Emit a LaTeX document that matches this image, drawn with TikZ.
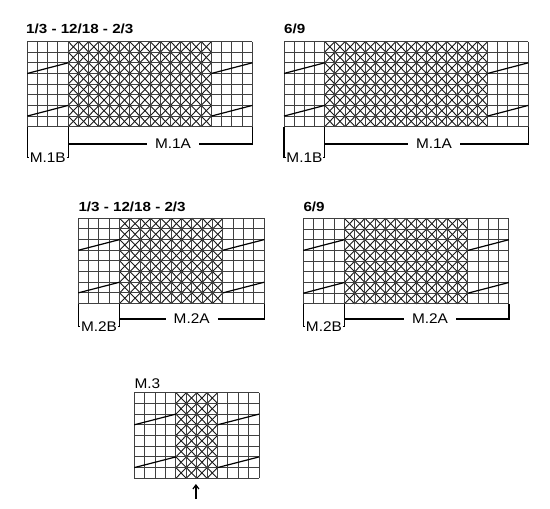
\documentclass[tikz,border=0pt]{standalone}
\usepackage{fontspec}
\setmainfont{Liberation Sans}
\newfontfamily\ttlfont[FakeStretch=1.15]{Liberation Sans}
\newfontfamily\lblfont[FakeStretch=1.1]{Liberation Sans}
\usetikzlibrary{arrows.meta}
\tikzset{
  gridline/.style={draw=black!75, line width=1pt},
  xmark/.style={draw=black!90, line width=0.9pt},
  diag/.style={draw=black, line width=1.2pt},
  brk/.style={draw=black, line width=1.4pt},
  ttl/.style={anchor=base west, inner sep=0pt, font=\ttlfont\bfseries\fontsize{13.2}{15}\selectfont},
  mlbl/.style={anchor=base west, inner sep=0pt, font=\lblfont\fontsize{14}{16}\selectfont},
  blab/.style={fill=white, inner xsep=0.6pt, inner ysep=1pt, font=\lblfont\fontsize{14}{16}\selectfont},
  alab/.style={fill=white, inner xsep=8pt, inner ysep=1pt, font=\lblfont\fontsize{14}{16}\selectfont},
}
% #1 name, #2 x0, #3 y0, #4 cell w, #5 cell h, #6 left cols, #7 X cols, #8 right cols
\newcommand\knitchart[8]{%
  \pgfmathtruncatemacro\kcols{#6+#7+#8}%
  \pgfmathsetmacro\kxa{#2+#6*#4}%
  \pgfmathsetmacro\kxb{#2+(#6+#7)*#4}%
  \pgfmathsetmacro\kxe{#2+\kcols*#4}%
  \pgfmathsetmacro\kye{#3+8*#5}%
  \foreach \i in {1,...,#7}{%
    \foreach \j in {1,...,8}{%
      \draw[xmark] ({\kxa+(\i-1)*#4},{#3+(\j-1)*#5}) -- ++(#4,#5);
      \draw[xmark] ({\kxa+\i*#4},{#3+(\j-1)*#5}) -- ++(-#4,#5);
    }}%
  \foreach \i in {0,...,\kcols}{\draw[gridline] ({#2+\i*#4},#3) -- ({#2+\i*#4},\kye);}%
  \foreach \j in {0,...,8}{\draw[gridline] (#2,{#3+\j*#5}) -- (\kxe,{#3+\j*#5});}%
  \draw[diag] (#2,{#3+3*#5}) -- (\kxa,{#3+2*#5});
  \draw[diag] (#2,{#3+7*#5}) -- (\kxa,{#3+6*#5});
  \draw[diag] (\kxb,{#3+3*#5}) -- (\kxe,{#3+2*#5});
  \draw[diag] (\kxb,{#3+7*#5}) -- (\kxe,{#3+6*#5});
  \coordinate (#1-bl) at (#2,\kye);
  \coordinate (#1-bm) at (\kxa,\kye);
  \coordinate (#1-br) at (\kxe,\kye);
}
\begin{document}
\begin{tikzpicture}[x=1pt,y=-1pt]
\useasboundingbox (0,0) rectangle (550,509);
\fill[white] (0,0) rectangle (550,509);

% chart 1
\node[ttl] (t1) at (26,33.5) {1/3 - 12/18 - 2/3};
\knitchart{c1}{27.3}{41.5}{10.23}{10.65}{4}{14}{4}
\coordinate (c1-as) at (68.22,144);
\node[blab] (c1-blab) at (47.8,157.5) {M.1B};
\node[alab] (c1-alab) at (173,144) {M.1A};
\draw[brk] (c1-bl) |- (c1-blab.west);
\draw[brk] (c1-blab.east) -| (c1-bm);
\draw[brk] (c1-as) -- (c1-alab.west);
\draw[brk] (c1-alab.east) -| (c1-br);

% chart 2
\node[ttl] (t2) at (284,33.5) {6/9};
\knitchart{c2}{284}{41.5}{10.18}{10.65}{4}{16}{4}
\coordinate (c2-as) at (324.72,144);
\node[blab] (c2-blab) at (304.4,157.5) {M.1B};
\node[alab] (c2-alab) at (434,144) {M.1A};
\draw[brk] (c2-bl) |- (c2-blab.west);
\draw[brk] (c2-blab.east) -| (c2-bm);
\draw[brk] (c2-as) -- (c2-alab.west);
\draw[brk] (c2-alab.east) -| (c2-br);

% chart 3
\node[ttl] (t3) at (78.3,211.5) {1/3 - 12/18 - 2/3};
\knitchart{c3}{78.3}{218.3}{10.33}{10.65}{4}{10}{4}
\coordinate (c3-as) at (119.62,319);
\node[blab] (c3-blab) at (99,326.5) {M.2B};
\node[alab] (c3-alab) at (191.7,319) {M.2A};
\draw[brk] (c3-bl) |- (c3-blab.west);
\draw[brk] (c3-blab.east) -| (c3-bm);
\draw[brk] (c3-as) -- (c3-alab.west);
\draw[brk] (c3-alab.east) -| (c3-br);

% chart 4
\node[ttl] (t4) at (303.3,211.5) {6/9};
\knitchart{c4}{303.3}{218.3}{10.28}{10.7}{4}{12}{4}
\coordinate (c4-as) at (344.42,319);
\node[blab] (c4-blab) at (323.9,326.5) {M.2B};
\node[alab] (c4-alab) at (430,319) {M.2A};
\draw[brk] (c4-bl) |- (c4-blab.west);
\draw[brk] (c4-blab.east) -| (c4-bm);
\draw[brk] (c4-as) -- (c4-alab.west);
\draw[brk] (c4-alab.east) -| (c4-br);

% chart 5
\node[mlbl] (t5) at (134.3,388) {M.3};
\knitchart{c5}{134.3}{392.7}{10.4}{10.7}{4}{4}{4}
\coordinate (a5s) at (195.9,499);
\coordinate (a5e) at (195.9,484);
\draw[line width=1.2pt, -{Straight Barb[length=4pt,width=6pt]}] (a5s) -- (a5e);
\end{tikzpicture}
\end{document}
